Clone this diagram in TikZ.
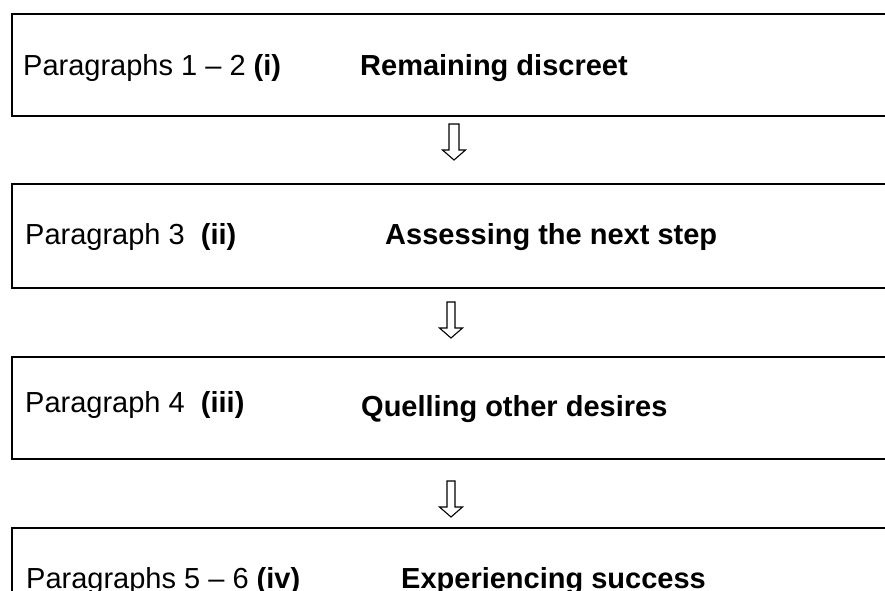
\documentclass[tikz,border=0pt]{standalone}
\usepackage{fontspec}
\setmainfont{Liberation Sans}
\usetikzlibrary{calc}
\begin{document}
\begin{tikzpicture}[x=1pt,y=-1pt,
  box/.style={draw=black,line width=2pt,rectangle,inner sep=0pt,anchor=north west},
  lab/.style={inner sep=0pt,anchor=base west,font=\fontsize{29}{34}\selectfont},
  blab/.style={lab,font=\fontsize{29}{34}\selectfont\bfseries},
  hollowarrow/.pic={\draw[line width=1.1pt,line join=miter,fill=white]
     (-#1,0) -- (#1,0) -- (#1,26) -- (11.5,26) -- (0,36) -- (-11.5,26) -- (-#1,26) -- cycle;},
]
\useasboundingbox (0,0) rectangle (885,590);
\clip (0,0) rectangle (885,590);
\node[box,minimum width=900pt,minimum height=102.3pt] (b1) at (10.7,12.7) {};
\node[box,minimum width=900pt,minimum height=104pt] (b2) at (10.7,183) {};
\node[box,minimum width=900pt,minimum height=102pt] (b3) at (10.7,356) {};
\node[box,minimum width=900pt,minimum height=160pt] (b4) at (10.7,527) {};

\node[lab] (p1) at (23,75) {Paragraphs 1 -- 2 \textbf{(i)}};
\node[blab] (t1) at (360,75) {Remaining discreet};
\node[lab] (p2) at (25,244) {Paragraph 3\ \ \textbf{(ii)}};
\node[blab] (t2) at (385,244) {Assessing the next step};
\node[lab] (p3) at (25,412) {Paragraph 4\ \ \textbf{(iii)}};
\node[blab] (t3) at (361,416) {Quelling other desires};
\node[lab] (p4) at (26,588) {Paragraphs 5 -- 6 \textbf{(iv)}};
\node[blab] (t4) at (401,588) {Experiencing success};

\pic at (454,124) {hollowarrow=5};
\pic at (451,302) {hollowarrow=4};
\pic at (451,481) {hollowarrow=4};
\end{tikzpicture}
\end{document}
